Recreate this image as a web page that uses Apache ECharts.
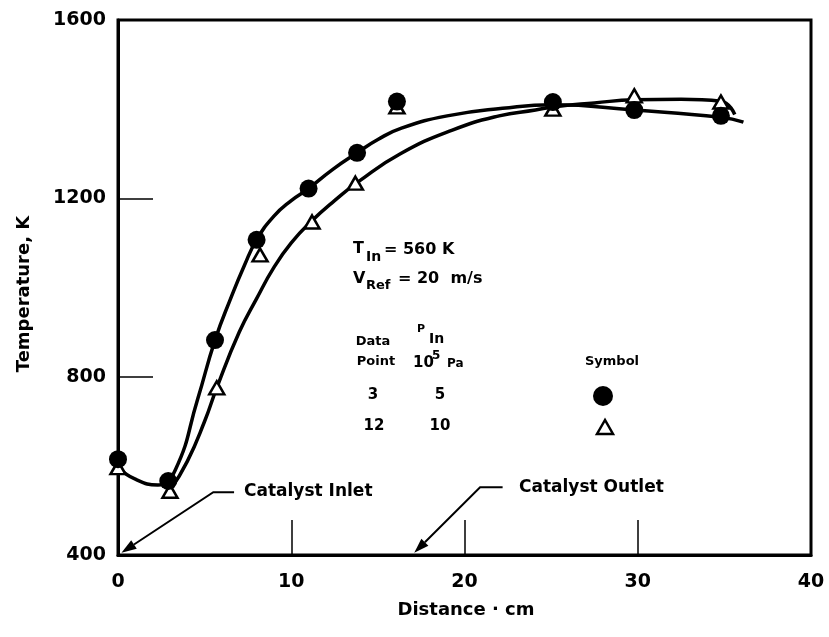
<!DOCTYPE html>
<html>
<head>
<meta charset="utf-8">
<script src="https://cdn.jsdelivr.net/npm/echarts@6/dist/echarts.min.js"></script>
<style>
  html, body { margin: 0; padding: 0; background: #fff; }
  #chart { width: 829px; height: 637px; }
</style>
</head>
<body>
<div id="chart"></div>
<script>
// Axis ticks
const xTicks = [0, 10, 20, 30, 40];
const yTicks = [400, 800, 1200, 1600];

// Measured points, data point 3 (P_in = 5 x 10^5 Pa)
const dist3 = [0, 2.9, 5.6, 8.0, 11.0, 13.8, 16.1, 25.1, 29.8, 34.8];
const temp3 = [615, 566, 882, 1107, 1222, 1302, 1417, 1416, 1398, 1385];

// Measured points, data point 12 (P_in = 10 x 10^5 Pa)
const dist12 = [0, 3.0, 5.7, 8.2, 11.2, 13.7, 16.1, 25.1, 29.8, 34.8];
const temp12 = [596, 543, 775, 1073, 1147, 1234, 1405, 1400, 1430, 1416];

// Faired curve through data point 3
const curve3X = [0, 1.0, 2.3, 3.3, 4.6, 5.6, 6.5, 7.3, 8.0, 9.0, 10.0, 11.0, 12.4, 13.8, 15.0, 16.4, 19.0, 22.2, 25.1, 29.8, 34.8, 36.1];
const curve3Y = [597, 570, 557, 590, 750, 882, 975, 1050, 1107, 1160, 1195, 1222, 1265, 1302, 1332, 1358, 1385, 1402, 1410, 1398, 1382, 1371];

// Faired curve through data point 12
const curve12X = [3.0, 4.0, 5.0, 5.7, 7.0, 8.0, 9.0, 10.0, 11.2, 12.5, 13.9, 16.3, 19.3, 22.0, 24.1, 25.1, 27.5, 29.8, 32.5, 34.8, 35.6];
const curve12Y = [545, 610, 700, 775, 900, 975, 1045, 1100, 1150, 1195, 1238, 1300, 1353, 1385, 1398, 1405, 1414, 1421, 1422, 1418, 1388];

// Leader lines (distance, temperature) ending at the catalyst inlet and outlet
const inletLeader = [[6.7, 541], [5.5, 541], [0.2, 405]];
const outletLeader = [[22.2, 552], [20.9, 552], [17.1, 405]];

const zip = (xs, ys) => xs.map((x, i) => [x, ys[i]]);

const FONT = 'DejaVu Sans';
const chart = echarts.init(document.getElementById('chart'));

const txt = (x, y, text, size, align) => ({
  type: 'text', x: x, y: y,
  style: {
    text: text, fill: '#000',
    font: 'bold ' + size + 'px "' + FONT + '"',
    align: align || 'left', verticalAlign: 'middle'
  }
});

chart.setOption({
  animation: false,
  backgroundColor: '#fff',
  grid: {
    left: 118, top: 20, right: 18, bottom: 82,
    show: true, borderColor: '#000', borderWidth: 3
  },
  xAxis: {
    type: 'value', min: xTicks[0], max: xTicks[xTicks.length - 1], interval: 10,
    axisLine: { lineStyle: { color: '#000', width: 3 } },
    axisTick: { inside: true, length: 35, lineStyle: { color: '#000', width: 1.5 } },
    splitLine: { show: false },
    axisLabel: {
      margin: 18, color: '#000', fontFamily: FONT, fontWeight: 'bold', fontSize: 19,
      formatter: v => String(v)
    }
  },
  yAxis: {
    type: 'value', min: yTicks[0], max: yTicks[yTicks.length - 1], interval: 400,
    axisLine: { lineStyle: { color: '#000', width: 3 } },
    axisTick: { inside: true, length: 35, lineStyle: { color: '#000', width: 1.5 } },
    splitLine: { show: false },
    axisLabel: {
      margin: 12, color: '#000', fontFamily: FONT, fontWeight: 'bold', fontSize: 19,
      formatter: v => String(v)
    }
  },
  series: [
    {
      type: 'line', data: zip(curve3X, curve3Y), smooth: 0.5,
      showSymbol: false, lineStyle: { color: '#000', width: 3.5 }, z: 2
    },
    {
      type: 'line', data: zip(curve12X, curve12Y), smooth: 0.5,
      showSymbol: false, lineStyle: { color: '#000', width: 3.5 }, z: 2
    },
    {
      type: 'scatter', data: zip(dist12, temp12), symbol: 'triangle', symbolSize: [15, 13],
      itemStyle: { color: '#fff', borderColor: '#000', borderWidth: 2.5, opacity: 1 }, z: 3
    },
    {
      type: 'scatter', data: zip(dist3, temp3), symbol: 'circle', symbolSize: 18,
      itemStyle: { color: '#000', opacity: 1 }, z: 4
    }
  ]
});

// Leader line with a filled arrowhead at its last point, placed through the grid's scales
function leader(points) {
  const px = points.map(p => chart.convertToPixel({ gridIndex: 0 }, p));
  const tip = px[px.length - 1];
  const prev = px[px.length - 2];
  const dx = tip[0] - prev[0], dy = tip[1] - prev[1];
  const len = Math.hypot(dx, dy);
  const ux = dx / len, uy = dy / len;
  const L = 15, W = 5;
  const bx = tip[0] - ux * L, by = tip[1] - uy * L;
  const shaft = px.slice(0, -1).concat([[bx, by]]);
  return [
    { type: 'polyline', shape: { points: shaft }, style: { stroke: '#000', lineWidth: 2, fill: null }, z: 10 },
    {
      type: 'polygon',
      shape: { points: [tip, [bx - uy * W, by + ux * W], [bx + uy * W, by - ux * W]] },
      style: { fill: '#000' }, z: 10
    }
  ];
}

const graphics = [
  // axis titles
  txt(466, 610, 'Distance · cm', 18, 'center'),
  {
    type: 'text', x: 24, y: 294, rotation: Math.PI / 2,
    style: {
      text: 'Temperature, K', fill: '#000',
      font: 'bold 18px "' + FONT + '"', align: 'center', verticalAlign: 'middle'
    }
  },
  // annotations
  txt(244, 492, 'Catalyst Inlet', 17),
  txt(519, 488, 'Catalyst Outlet', 17),
  // test conditions
  txt(353, 249, 'T', 16),
  txt(366, 257, 'In', 14),
  txt(384, 250, '= 560 K', 16),
  txt(353, 279, 'V', 16),
  txt(366, 286, 'Ref', 13),
  txt(398, 279, '= 20  m/s', 16),
  // symbol table
  txt(373, 342, 'Data', 13, 'center'),
  txt(376, 362, 'Point', 13, 'center'),
  txt(417, 329, 'P', 11),
  txt(429, 339, 'In', 14),
  txt(413, 363, '10', 15),
  txt(432, 356, '5', 12),
  txt(447, 364, 'Pa', 12),
  txt(612, 362, 'Symbol', 13, 'center'),
  txt(373, 395, '3', 15, 'center'),
  txt(440, 395, '5', 15, 'center'),
  txt(374, 426, '12', 15, 'center'),
  txt(440, 426, '10', 15, 'center'),
  { type: 'circle', shape: { cx: 603, cy: 396, r: 10 }, style: { fill: '#000' } },
  {
    type: 'polygon', shape: { points: [[605, 420], [597, 434], [613, 434]] },
    style: { fill: '#fff', stroke: '#000', lineWidth: 2.5 }
  }
].concat(leader(inletLeader), leader(outletLeader));

chart.setOption({ graphic: graphics });
</script>
</body>
</html>
